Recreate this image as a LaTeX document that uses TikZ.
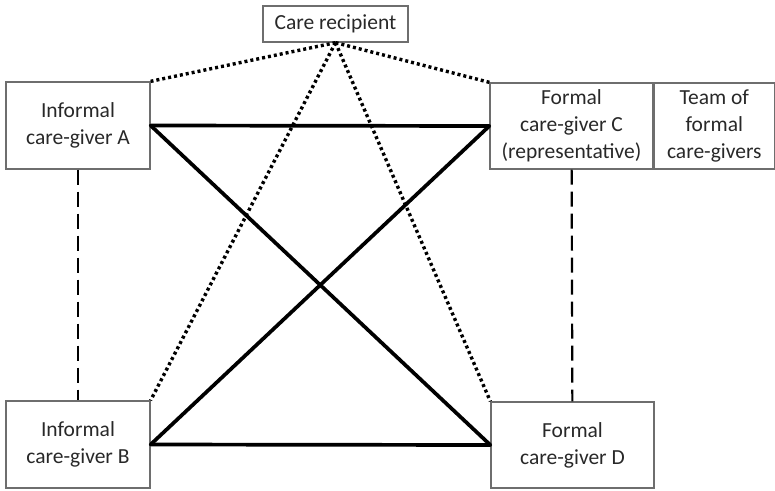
\documentclass[tikz,border=0pt]{standalone}
\usepackage{fontspec}
\setmainfont{Carlito}
\usepackage{xcolor}
\usetikzlibrary{positioning}
\definecolor{boxline}{RGB}{110, 110, 110}
\definecolor{boxtext}{RGB}{40, 40, 40}
\tikzset{
    carebox/.style={rectangle, draw=boxline, line width=1.3pt, text=boxtext, align=center,
        inner sep=0pt, font=\fontsize{21.5}{27}\selectfont},
    tie/.style={line width=3.7pt, line cap=round},
    info/.style={line width=3.4pt, dash pattern=on 3pt off 3pt},
    peer/.style={line width=2.2pt, dash pattern=on 15pt off 7pt}
}
\begin{document}
\begin{tikzpicture}[x=1pt, y=-1pt]
    \useasboundingbox (0,0) rectangle (775,490);
    \node[carebox, minimum width=145pt, minimum height=36pt] (recip) at (335.5,24) {Care recipient};
    \node[carebox, minimum width=144pt, minimum height=87pt] (infA) at (78,125.5) {Informal\\care-giver A};
    \node[carebox, minimum width=163pt, minimum height=86pt] (formC) at (571.5,126) {Formal\\care-giver C\\(representative)};
    \node[carebox, minimum width=120pt, minimum height=86pt, right=0pt of formC] (team) {Team of\\formal\\care-givers};
    \node[carebox, minimum width=144pt, minimum height=87pt] (infB) at (78,444.5) {Informal\\care-giver B};
    \node[carebox, minimum width=163pt, minimum height=86pt] (formD) at (572.5,445) {Formal\\care-giver D};
    % care recipient to every care-giver
    \draw[info] (recip.south) -- (infA.north east);
    \draw[info] (recip.south) -- (formC.north west);
    \draw[info] (recip.south) -- (infB.north east);
    \draw[info] (recip.south) -- (formD.north west);
    % informal to formal
    \draw[tie] (infA.east) -- (formC.west);
    \draw[tie] (infA.east) -- (formD.west);
    \draw[tie] (infB.east) -- (formC.west);
    \draw[tie] (infB.east) -- (formD.west);
    % same kind
    \draw[peer] (infA) -- (infB);
    \draw[peer] (formC) -- (formD);
\end{tikzpicture}
\end{document}
